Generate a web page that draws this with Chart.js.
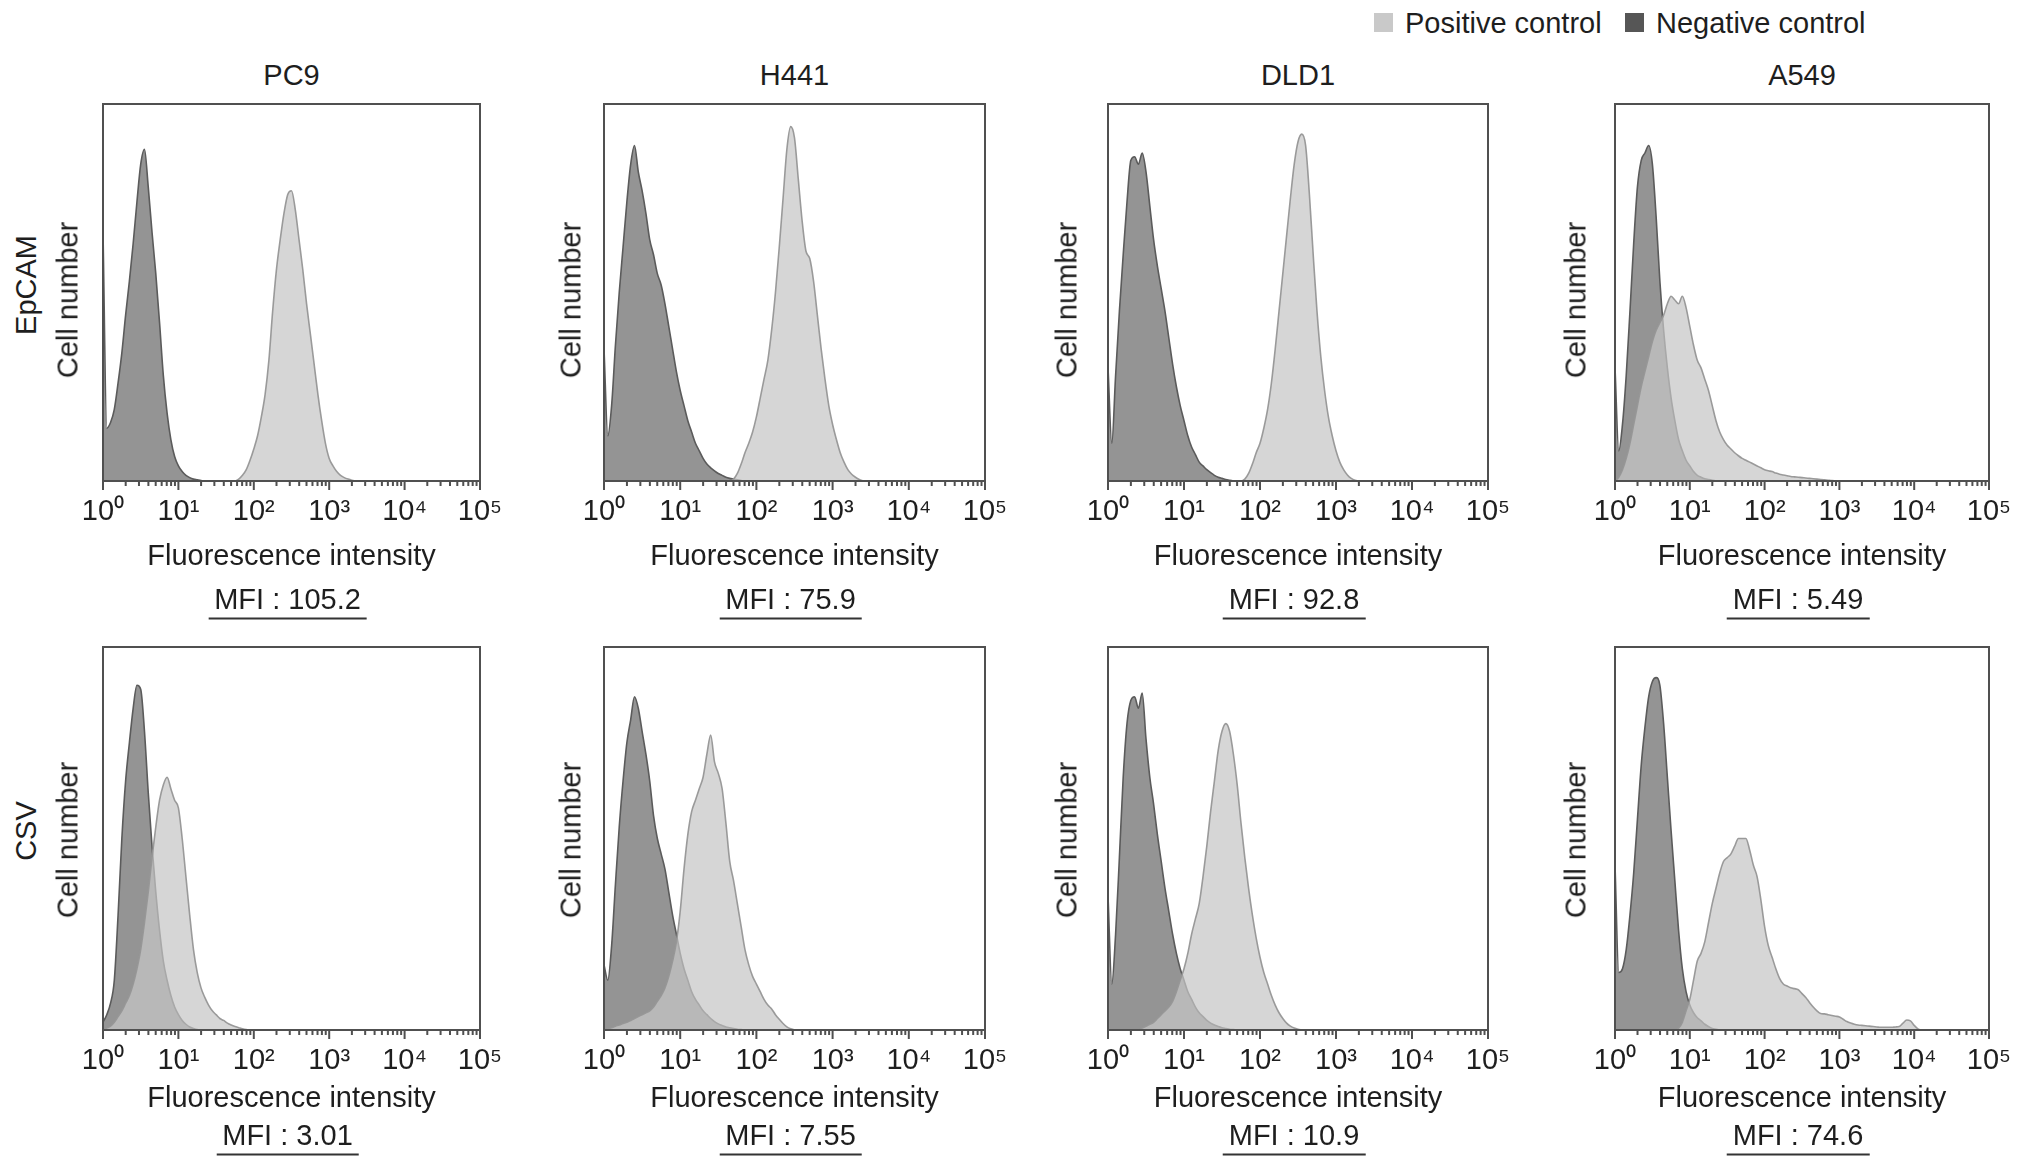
<!DOCTYPE html>
<html><head><meta charset="utf-8">
<script src="https://cdn.jsdelivr.net/npm/chart.js@4.4.1/dist/chart.umd.min.js"></script>
<style>
html,body{margin:0;padding:0;background:#fff;}
#fig{position:relative;width:2032px;height:1166px;overflow:hidden;font-family:"Liberation Sans",Arial,Helvetica,sans-serif;color:#1e1e1e;background:#fff;}
.t{position:absolute;white-space:nowrap;font-size:29px;line-height:1;transform:translate(-50%,-50%);}
.rot{transform:translate(-50%,-50%) rotate(-90deg);}
.mfi{border-bottom:2px solid #333;padding:0 6px 4px 6px;}
canvas{position:absolute;}
.sq{position:absolute;width:19px;height:19px;}
.lt{position:absolute;white-space:nowrap;font-size:29px;line-height:1;transform:translateY(-50%);}
</style></head><body><div id="fig"></div>
<script>
// ---------------- DATA ----------------
const columns = ['PC9', 'H441', 'DLD1', 'A549'];
const markers = ['EpCAM', 'CSV'];
const mfiEpcam = ['105.2', '75.9', '92.8', '5.49'];
const mfiCsv = ['3.01', '7.55', '10.9', '74.6'];
const legendLabels = ['Positive control', 'Negative control'];
const tickExponents = [0, 1, 2, 3, 4, 5];
const tickLabels = ['10⁰', '10¹', '10²', '10³', '10⁴', '10⁵'];
const minorMultipliers = [2, 3, 4, 5, 6, 7, 8, 9];
// log10 of fluorescence intensity (histogram bins)
const logIntensity = [
 0,0.05,0.1,0.15,0.2,0.25,0.3,0.35,0.4,0.45,
 0.5,0.55,0.6,0.65,0.7,0.75,0.8,0.85,0.9,0.95,
 1,1.05,1.1,1.15,1.2,1.25,1.3,1.35,1.4,1.45,
 1.5,1.55,1.6,1.65,1.7,1.75,1.8,1.85,1.9,1.95,
 2,2.05,2.1,2.15,2.2,2.25,2.3,2.35,2.4,2.45,
 2.5,2.55,2.6,2.65,2.7,2.75,2.8,2.85,2.9,2.95,
 3,3.05,3.1,3.15,3.2,3.25,3.3,3.35,3.4,3.45,
 3.5,3.55,3.6,3.65,3.7,3.75,3.8,3.85,3.9,3.95,
 4,4.05,4.1,4.15,4.2,4.25,4.3,4.35,4.4,4.45,
 4.5,4.55,4.6,4.65,4.7,4.75,4.8,4.85,4.9,4.95,5];
// cell number (% of panel height)
const pc9EpcamNegative = [66,14,15.5,19,26,34,44,53,63,74, 84,88,78,66,55,42,28,18,11,6.5, 4,2.5,1.5,0.9,0.5,0.3,0.1,0];
const pc9EpcamPositive = [0,0,0,0,0,0,0,0,0,0, 0,0,0,0,0,0,0,0,0,0, 0,0,0,0,0,0,0,0,0,0,
 0,0,0,0,0,0,0.5,1.5,3,5.5, 8.5,12,17,23,32,45,56,64,71,76, 77,72,64,56,47,39,31,23,16,10, 6,4,2.5,1.5,0.9,0.5,0.2,0];
const h441EpcamNegative = [35,12,20,36,50,62,74,84,89,82, 77,71,64,60,55,52,47,41,35,29, 24,20,16,13,10,8,6,4.5,3.5,2.7, 2,1.5,1,0.7,0.5,0.3,0.1,0];
const h441EpcamPositive = [0,0,0,0,0,0,0,0,0,0, 0,0,0,0,0,0,0,0,0,0, 0,0,0,0,0,0,0,0,0,0,
 0,0,0,0,0.5,2,4.5,7.5,10,13, 17,22,27,32,40,50,62,75,88,94, 91,80,69,61,59,53,44,35,27,20, 15,11,7.5,5,3,1.8,1,0.4,0];
const dld1EpcamNegative = [30,10,28,45,60,74,85,86,84,87, 82,73,64,57,51,45,38,31,25,20, 16,12,9,7,5,4,3,2.2,1.5,1, 0.7,0.4,0.2,0];
const dld1EpcamPositive = [0,0,0,0,0,0,0,0,0,0, 0,0,0,0,0,0,0,0,0,0, 0,0,0,0,0,0,0,0,0,0,
 0,0,0,0,0,0,0.5,2,4.5,7.5, 10,14,19,26,35,45,55,65,75,84, 90,92,89,76,60,45,33,24,17,12, 8,5,3,1.6,0.7,0.2,0];
const a549EpcamNegative = [30,8,15,28,45,63,78,85,87,89, 84,70,53,40,30,22,16,11,8,5.5, 4,2.5,1.5,1,0.6,0.4,0.2,0];
const a549EpcamPositive = [0,1,3,6,10,15,20,25,29,33, 37,40,42,44,47,49,48,47,49,46, 41,36,32,30,27,24,20,16,13,11,
 9.5,8.5,7.5,6.7,6,5.5,5,4.5,4,3.5, 3,2.7,2.5,2.1,1.8,1.6,1.4,1.2,1.1,1, 0.9,0.8,0.7,0.6,0.5,0.4,0.3,0.2,0.1,0.05, 0];
const pc9CsvNegative = [2,4,7,13,30,50,65,75,84,90, 89,78,62,48,36,26,18,13,9,6, 4,2.5,1.5,0.8,0.4,0.1,0];
const pc9CsvPositive = [0,0.5,1,2,3.5,5,7,9,12,16, 21,28,36,45,53,60,64,66,63,60, 58,50,40,30,21,15,11,8.5,6.5,5,
 4,3,2.5,1.8,1.3,0.9,0.6,0.3,0.1,0];
const h441CsvNegative = [17,13,22,38,53,65,75,81,87,84, 78,72,65,56,50,46,42,36,30,25, 20,16,13,10,8,6.5,5,4,3,2.2,
 1.6,1.2,0.8,0.6,0.4,0.2,0.1,0];
const h441CsvPositive = [0,0.3,0.6,1,1.3,1.7,2,2.5,3,3.5, 4,4.5,5,6,7.5,9,11,14,18,23, 31,42,51,57,60,63,66,72,77,70,
 67,63,54,44,39,33,27,21,17,14, 12,10,8,6.5,5.5,4,2.8,1.7,0.8,0.3, 0];
const dld1CsvNegative = [35,12,25,45,66,80,86,87,84,88, 76,66,59,51,44,37,31,25,20,16, 13,10,8,6,4.5,3.5,2.5,1.8,1.3,0.9,
 0.6,0.4,0.2,0.1,0];
const dld1CsvPositive = [0,0,0,0,0,0,0,0,0,0.5, 1,1.5,2,3,4,5,6,7.5,10,13, 16,20,25,29,33,40,48,57,65,73,
 78,80,78,72,64,54,45,37,30,24, 19,15,12,9,6.5,4.5,3,1.8,1,0.5, 0.2,0];
const a549CsvNegative = [43,15,16,21,30,41,55,69,79,87, 91,92,90,80,66,52,39,26,16,10, 6.5,4.5,3.2,2.4,1.5,0.9,0.4,0.2,0];
const a549CsvPositive = [0,0,0,0,0,0,0,0,0,0, 0,0,0,0,0,0,0,0.5,2,5, 8,13,18,20,23,28,33,37,41,44,
 45,46,48,50,50,50,47,43,40,34, 27,22,19,16,13.5,12,11.5,11,10.8,10.5, 9.5,8.5,7.2,6,5,4.3,4.2,4,3.8,3.6,
 3.4,2.8,2.2,1.8,1.5,1.3,1.2,1.1,1,0.9, 0.8,0.7,0.7,0.7,0.7,0.8,0.9,1.8,2.6,2.4, 1.2,0.3,0];

const positiveSeries = [
  [pc9EpcamPositive, h441EpcamPositive, dld1EpcamPositive, a549EpcamPositive],
  [pc9CsvPositive, h441CsvPositive, dld1CsvPositive, a549CsvPositive]];
const negativeSeries = [
  [pc9EpcamNegative, h441EpcamNegative, dld1EpcamNegative, a549EpcamNegative],
  [pc9CsvNegative, h441CsvNegative, dld1CsvNegative, a549CsvNegative]];
const mfiRows = [mfiEpcam, mfiCsv];

// ---------------- LAYOUT / STYLE ----------------
const colLeft = [103, 604, 1108, 1615];
const colWidth = [377, 381, 380, 374];
const rowTop = [104, 647];
const rowHeight = [377, 383];
const cellNumberX = [68, 571, 1067, 1576];
const cellNumberY = [300, 840];
const fiY = [555, 1097];
const mfiY = [599, 1135];
const FONT = '"Liberation Sans", Arial, Helvetica, sans-serif';
const POS_FILL = 'rgba(198,198,198,0.72)';
const POS_LINE = 'rgba(150,150,150,0.95)';
const NEG_FILL = '#949494';
const NEG_LINE = '#5b5b5b';

const fig = document.getElementById('fig');
function addText(txt, x, y, cls) {
  const d = document.createElement('div');
  d.className = 't' + (cls ? ' ' + cls : '');
  d.textContent = txt;
  d.style.left = x + 'px'; d.style.top = y + 'px';
  fig.appendChild(d); return d;
}

// legend
[[1374, 1405, '#c9c9c9'], [1625, 1656, '#565656']].forEach((l, i) => {
  const s = document.createElement('div'); s.className = 'sq';
  s.style.left = l[0] + 'px'; s.style.top = '13px'; s.style.background = l[2];
  fig.appendChild(s);
  const t = document.createElement('div'); t.className = 'lt';
  t.textContent = legendLabels[i]; t.style.left = l[1] + 'px'; t.style.top = '23px';
  fig.appendChild(t);
});

const boxPlugin = {
  id: 'boxAndTicks',
  afterDatasetsDraw(chart) {
    const ctx = chart.ctx, a = chart.chartArea, xs = chart.scales.x;
    ctx.save();
    ctx.strokeStyle = '#505050'; ctx.lineWidth = 2;
    ctx.strokeRect(a.left, a.top, a.right - a.left, a.bottom - a.top);
    ctx.beginPath();
    tickExponents.forEach((e, k) => {
      const base = Math.pow(10, e);
      const px = xs.getPixelForValue(base);
      ctx.moveTo(px, a.bottom); ctx.lineTo(px, a.bottom + 9);
      if (k < tickExponents.length - 1) {
        minorMultipliers.forEach(m => {
          const p = xs.getPixelForValue(m * base);
          ctx.moveTo(p, a.bottom); ctx.lineTo(p, a.bottom + 5);
        });
      }
    });
    ctx.stroke();
    ctx.restore();
  }
};

function points(vals) { return vals.map((v, i) => ({ x: Math.pow(10, logIntensity[i]), y: v })); }

for (let r = 0; r < 2; r++) {
  addText(markers[r], 26, rowTop[r] + rowHeight[r] / 2 - 8, 'rot');
  for (let c = 0; c < 4; c++) {
    const L = colLeft[c], T = rowTop[r], W = colWidth[c], H = rowHeight[r];
    const padL = 50, padR = 50, padT = 10, axisH = 60;
    const cv = document.createElement('canvas');
    cv.width = W + padL + padR; cv.height = H + padT + axisH;
    cv.style.left = (L - padL) + 'px'; cv.style.top = (T - padT) + 'px';
    fig.appendChild(cv);
    new Chart(cv, {
      type: 'line',
      data: { datasets: [
        { label: legendLabels[0], data: points(positiveSeries[r][c]), order: 0, fill: 'origin',
          backgroundColor: POS_FILL, borderColor: POS_LINE, borderWidth: 1.6, pointRadius: 0,
          cubicInterpolationMode: 'monotone' },
        { label: legendLabels[1], data: points(negativeSeries[r][c]), order: 1, fill: 'origin',
          backgroundColor: NEG_FILL, borderColor: NEG_LINE, borderWidth: 1.6, pointRadius: 0,
          cubicInterpolationMode: 'monotone' }
      ] },
      options: {
        responsive: false, animation: false, devicePixelRatio: 1,
        layout: { padding: { left: padL, right: padR, top: padT, bottom: 0 } },
        plugins: { legend: { display: false }, tooltip: { enabled: false } },
        scales: {
          x: {
            type: 'logarithmic', min: 1, max: 100000,
            grid: { display: false, drawTicks: false }, border: { display: false },
            afterBuildTicks: s => { s.ticks = tickExponents.map(e => ({ value: Math.pow(10, e), major: true })); },
            afterFit: s => { s.height = axisH; },
            ticks: { autoSkip: false, maxRotation: 0, minRotation: 0, padding: 14, color: '#1e1e1e',
              font: { family: FONT, size: 29 }, callback: (v, i) => tickLabels[i] }
          },
          y: { display: false, min: 0, max: 100 }
        }
      },
      plugins: [boxPlugin]
    });
    if (r === 0) addText(columns[c], L + W / 2, 75);
    addText('Cell number', cellNumberX[c], cellNumberY[r], 'rot');
    addText('Fluorescence intensity', L + W / 2, fiY[r]);
    addText('MFI : ' + mfiRows[r][c], L + W / 2 - 4, mfiY[r] + 3, 'mfi');
  }
}
</script></body></html>
